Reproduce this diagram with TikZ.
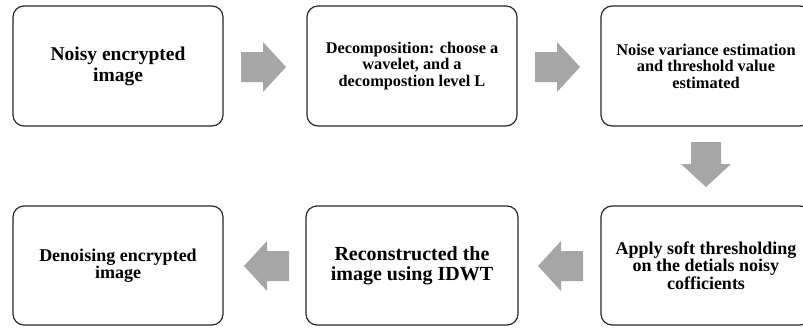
\documentclass[tikz,border=0pt]{standalone}
\usepackage{fontspec}
\setmainfont{Liberation Serif}
\definecolor{arrowgray}{RGB}{166,166,166}
\definecolor{boxline}{RGB}{40,40,40}
\begin{document}
\begin{tikzpicture}[x=1pt,y=-1pt,
  stepbox/.style={draw=boxline, line width=1.2pt, rounded corners=11pt, fill=white,
    minimum width=210pt, minimum height=120pt, align=center, inner sep=0pt},
  fs/.style 2 args={font={\bfseries\fontsize{#1}{#2}\selectfont}},
  blockarrow/.style={fill=arrowgray, draw=none}]
\useasboundingbox (0,0) rectangle (803,327);
\clip (0,0) rectangle (803,327);
\node[stepbox, fs={19.5}{21}] (b1) at (118,66) {Noisy encrypted\\ image};
\node[stepbox, fs={16.3}{16.5}] (b2) at (412,66) {Decomposition: choose a\\ wavelet, and a\\ decompostion level L};
\node[stepbox, fs={16.4}{16.5}] (b3) at (706,66) {Noise variance estimation\\ and threshold value\\ estimated};
\node[stepbox, minimum height=119pt, fs={18}{17.5}] (b6) at (706,265.5) {Apply soft thresholding\\ on the detials noisy\\ cofficients};
\node[stepbox, minimum width=212pt, minimum height=119pt, fs={20}{20}] (b5) at (412,265.5) {Reconstructed the\\ image using IDWT};
\node[stepbox, minimum height=119pt, fs={18}{17}] (b4) at (118,265.5) {Denoising encrypted\\ image};
% block arrows
\def\blockarrowpath{(0,-15) -- (22,-15) -- (22,-25) -- (45,0) -- (22,25) -- (22,15) -- (0,15) -- cycle}
\fill[blockarrow, shift={(241,67)}] \blockarrowpath;
\fill[blockarrow, shift={(535,67)}] \blockarrowpath;
\fill[blockarrow, shift={(706,142)}, rotate=-90] \blockarrowpath;
\fill[blockarrow, shift={(583,266)}, rotate=180] \blockarrowpath;
\fill[blockarrow, shift={(289,266)}, rotate=180] \blockarrowpath;
\end{tikzpicture}
\end{document}
